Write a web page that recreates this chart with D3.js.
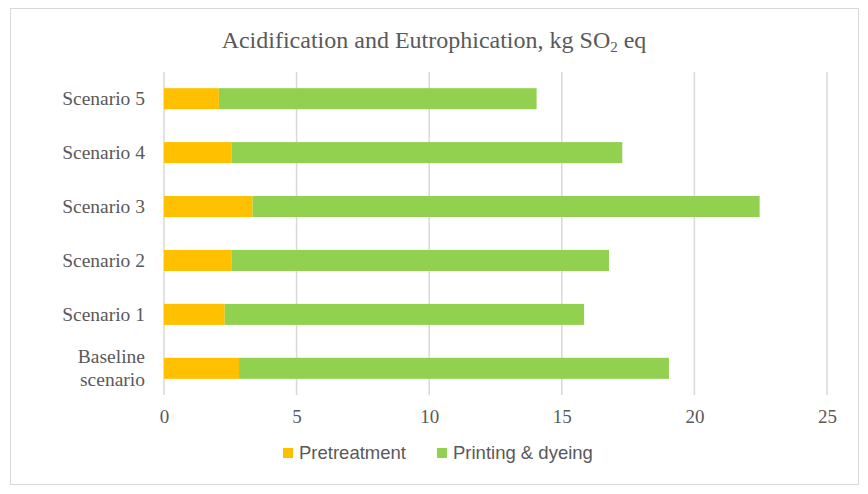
<!DOCTYPE html>
<html>
<head>
<meta charset="utf-8">
<script src="https://cdn.jsdelivr.net/npm/d3@7"></script>
<style>
  body { margin: 0; background: #fff; }
  svg { display: block; }
</style>
</head>
<body>
<div id="chart"></div>
<script>
// data (top to bottom as drawn)
const categories = ['Scenario 5', 'Scenario 4', 'Scenario 3', 'Scenario 2', 'Scenario 1', 'Baseline scenario'];
const pretreatment = [2.07, 2.54, 3.34, 2.54, 2.29, 2.83];
const printingDyeing = [11.98, 14.74, 19.12, 14.24, 13.55, 16.21];
const seriesNames = ['Pretreatment', 'Printing & dyeing'];
const xTicks = [0, 5, 10, 15, 20, 25];

const width = 868;
const height = 494;
const margin = { top: 72, right: 41, bottom: 99, left: 164 };
const serif = '"Liberation Serif", "DejaVu Serif", serif';

const svg = d3.select('#chart')
  .append('svg')
  .attr('width', width)
  .attr('height', height);

// outer frame
svg.append('rect')
  .attr('x', 10.5).attr('y', 8.5)
  .attr('width', 848).attr('height', 476)
  .attr('fill', '#fff')
  .attr('stroke', '#d9d9d9')
  .attr('stroke-width', 1);

// title
const title = svg.append('text')
  .attr('x', 434)
  .attr('y', 48)
  .attr('text-anchor', 'middle')
  .attr('font-family', serif)
  .attr('font-size', 24)
  .attr('fill', '#595959');
title.append('tspan').text('Acidification and Eutrophication, kg SO');
title.append('tspan').attr('font-size', 15).attr('dy', 4).text('2');
title.append('tspan').attr('dy', -4).text(' eq');

const x = d3.scaleLinear()
  .domain([0, 25])
  .range([margin.left, width - margin.right]);

const y = d3.scaleBand()
  .domain(categories)
  .range([margin.top, height - margin.bottom])
  .paddingInner(0.61)
  .paddingOuter(0.3);

// gridlines
svg.append('g')
  .selectAll('line')
  .data(xTicks)
  .join('line')
  .attr('x1', d => x(d)).attr('x2', d => x(d))
  .attr('y1', margin.top).attr('y2', height - margin.bottom)
  .attr('stroke', '#d9d9d9')
  .attr('stroke-width', 1.5);

// x axis labels
const xAxis = svg.append('g')
  .attr('transform', `translate(0,${height - margin.bottom})`)
  .call(d3.axisBottom(x).tickValues(xTicks).tickSize(0).tickPadding(15));
xAxis.select('.domain').remove();
xAxis.selectAll('text')
  .attr('font-family', serif)
  .attr('font-size', 19)
  .attr('fill', '#595959');

// y axis labels
const yAxis = svg.append('g')
  .attr('transform', `translate(${margin.left},0)`)
  .call(d3.axisLeft(y).tickSize(0));
yAxis.select('.domain').remove();
yAxis.selectAll('text').remove();
yAxis.selectAll('.tick').each(function(d) {
  const t = d3.select(this).append('text')
    .attr('x', -19)
    .attr('text-anchor', 'end')
    .attr('font-family', serif)
    .attr('font-size', 19.5)
    .attr('fill', '#595959');
  if (d === 'Baseline scenario') {
    t.append('tspan').attr('x', -19).attr('dy', '-0.25em').text('Baseline');
    t.append('tspan').attr('x', -19).attr('dy', '1.18em').text('scenario');
  } else {
    t.attr('dy', '0.34em').text(d);
  }
});

// stacked bars
const rows = categories.map((c, i) => ({ cat: c, a: pretreatment[i], b: printingDyeing[i] }));
const stack = d3.stack().keys(['a', 'b'])(rows);
const color = d3.scaleOrdinal().domain(['a', 'b']).range(['#ffc000', '#92d050']);

svg.append('g')
  .selectAll('g')
  .data(stack)
  .join('g')
  .attr('fill', d => color(d.key))
  .selectAll('rect')
  .data(d => d)
  .join('rect')
  .attr('x', d => x(d[0]))
  .attr('y', d => y(d.data.cat))
  .attr('width', d => x(d[1]) - x(d[0]))
  .attr('height', y.bandwidth());

// legend
const legend = svg.append('g').attr('transform', 'translate(0,453)');
const legendX = [283, 437];
seriesNames.forEach((name, i) => {
  const g = legend.append('g').attr('transform', `translate(${legendX[i]},0)`);
  g.append('rect')
    .attr('x', 0).attr('y', -5)
    .attr('width', 10).attr('height', 10)
    .attr('fill', color(['a', 'b'][i]));
  g.append('text')
    .attr('x', 16)
    .attr('dy', '0.35em')
    .attr('font-family', '"Liberation Sans Narrow", "Liberation Sans", sans-serif')
    .attr('font-size', 18.5)
    .attr('fill', '#595959')
    .text(name);
});
</script>
</body>
</html>
